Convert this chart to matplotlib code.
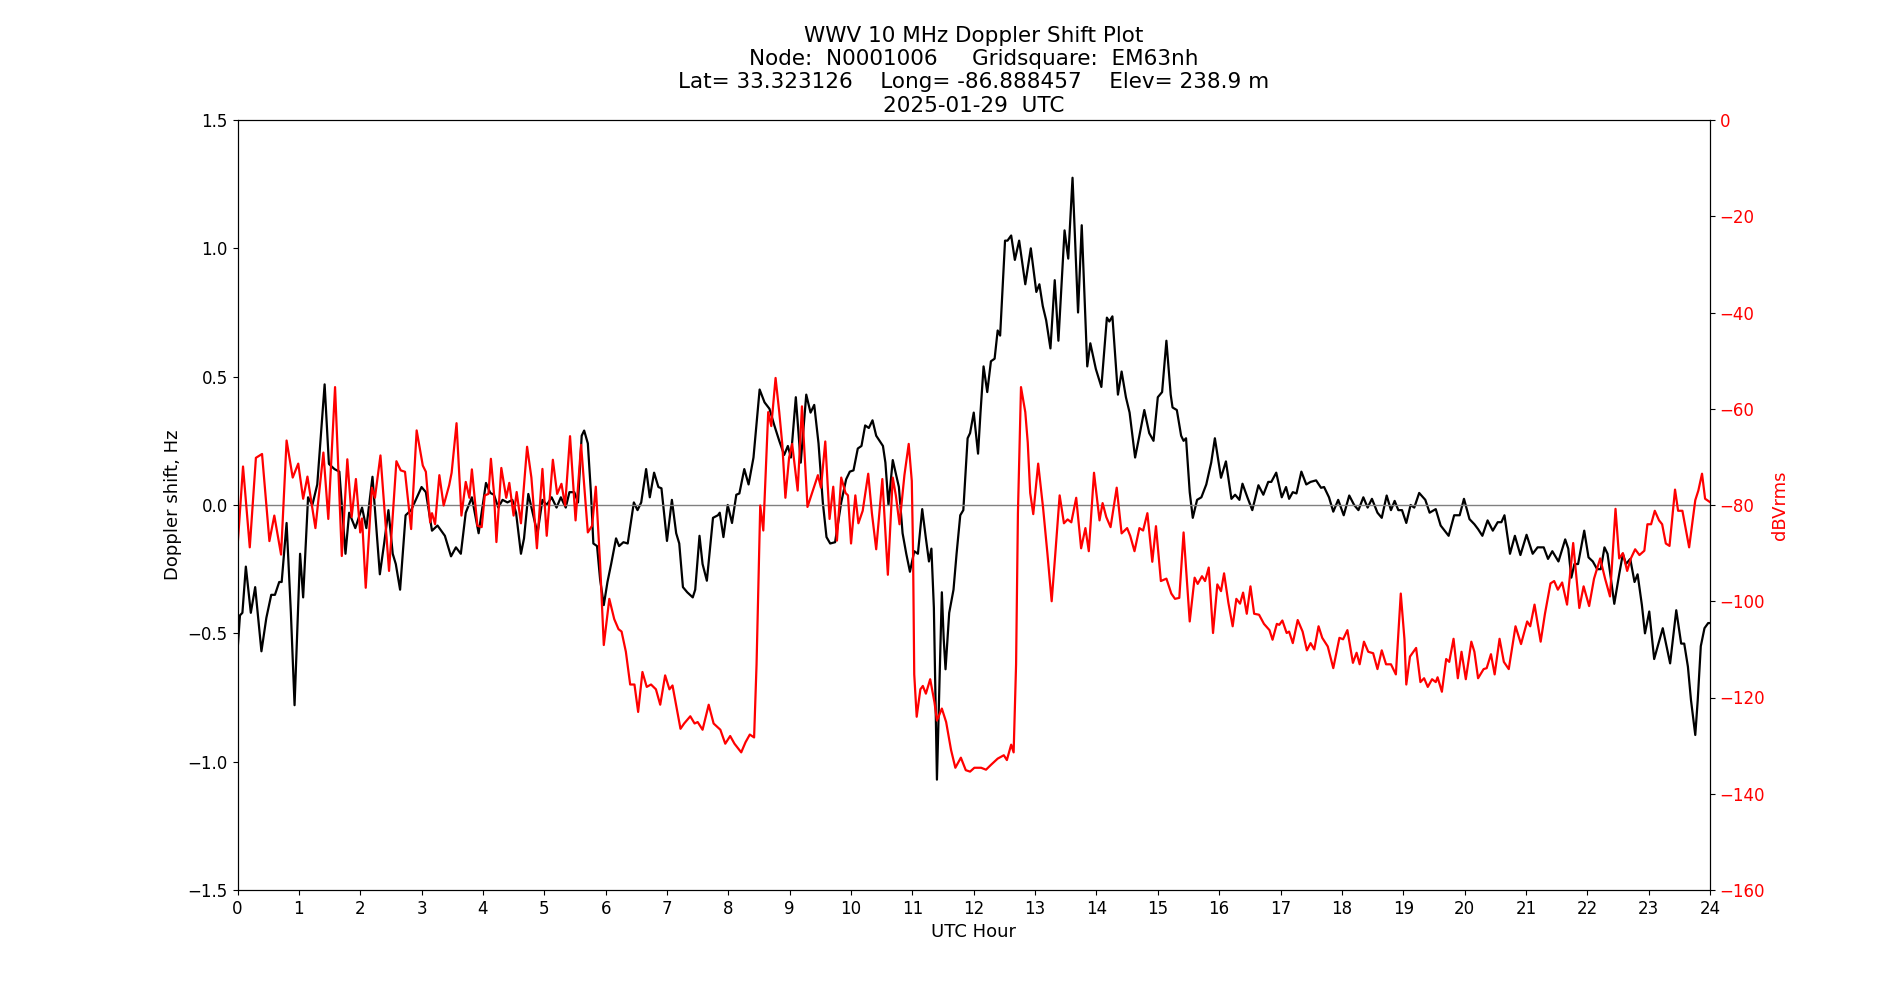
import matplotlib
matplotlib.use("Agg")
import matplotlib.pyplot as plt

# Doppler-Verschiebung (schwarz): Stunde UTC / Hz
doppler_hour = [
    0.00, 0.04, 0.08, 0.136, 0.217, 0.288, 0.39, 0.47, 0.55, 0.61, 0.68, 0.72, 0.80, 0.87, 0.93,
    1.02, 1.07, 1.15, 1.22, 1.30, 1.42, 1.49, 1.58, 1.66, 1.76, 1.82, 1.92, 2.03, 2.10, 2.20,
    2.32, 2.39, 2.46, 2.53, 2.58, 2.65, 2.74, 2.83, 3.00, 3.07, 3.17, 3.26, 3.38, 3.48, 3.56,
    3.64, 3.72, 3.82, 3.93, 4.05, 4.12, 4.18, 4.25, 4.32, 4.40, 4.48, 4.54, 4.62, 4.67, 4.74,
    4.83, 4.89, 4.97, 5.04, 5.12, 5.20, 5.27, 5.35, 5.41, 5.49, 5.55, 5.61, 5.65, 5.71, 5.76,
    5.80, 5.86, 5.91, 5.97, 6.03, 6.09, 6.17, 6.22, 6.29, 6.36, 6.46, 6.52, 6.58, 6.66, 6.72,
    6.79, 6.86, 6.91, 7.00, 7.08, 7.15, 7.20, 7.26, 7.33, 7.42, 7.46, 7.53, 7.58, 7.65, 7.75,
    7.83, 7.86, 7.92, 7.99, 8.06, 8.13, 8.18, 8.26, 8.33, 8.41, 8.51, 8.59, 8.67, 8.75, 8.83,
    8.91, 8.97, 9.02, 9.10, 9.18, 9.27, 9.34, 9.40, 9.47, 9.54, 9.60, 9.66, 9.74, 9.84, 9.92,
    9.98, 10.04, 10.11, 10.17, 10.23, 10.29, 10.35, 10.41, 10.52, 10.56, 10.61, 10.68, 10.78, 10.84, 10.90,
    10.96, 11.03, 11.09, 11.16, 11.22, 11.27, 11.31, 11.35, 11.40, 11.44, 11.48, 11.51, 11.54, 11.60, 11.67,
    11.72, 11.78, 11.83, 11.90, 11.94, 12.00, 12.07, 12.11, 12.16, 12.22, 12.28, 12.34, 12.39, 12.43, 12.51,
    12.55, 12.61, 12.67, 12.74, 12.84, 12.93, 13.02, 13.07, 13.125, 13.18, 13.25, 13.32, 13.38, 13.48, 13.54,
    13.61, 13.70, 13.76, 13.85, 13.90, 13.99, 14.08, 14.17, 14.21, 14.26, 14.35, 14.41, 14.48, 14.54, 14.63,
    14.70, 14.78, 14.86, 14.93, 15.00, 15.07, 15.14, 15.21, 15.24, 15.31, 15.38, 15.42, 15.46, 15.52, 15.57,
    15.64, 15.71, 15.79, 15.87, 15.93, 16.03, 16.11, 16.20, 16.26, 16.33, 16.38, 16.46, 16.54, 16.64, 16.72,
    16.80, 16.85, 16.93, 17.02, 17.09, 17.14, 17.20, 17.26, 17.34, 17.42, 17.49, 17.58, 17.66, 17.71, 17.79,
    17.86, 17.94, 18.03, 18.12, 18.20, 18.27, 18.35, 18.42, 18.49, 18.58, 18.65, 18.73, 18.80, 18.86, 18.92,
    18.98, 19.05, 19.12, 19.18, 19.26, 19.36, 19.43, 19.53, 19.61, 19.74, 19.83, 19.92, 19.99, 20.08, 20.16,
    20.22, 20.29, 20.375, 20.46, 20.54, 20.60, 20.65, 20.74, 20.82, 20.91, 21.01, 21.11, 21.19, 21.29, 21.36,
    21.43, 21.53, 21.64, 21.69, 21.74, 21.79, 21.85, 21.95, 22.02, 22.09, 22.16, 22.22, 22.28, 22.33, 22.375,
    22.44, 22.52, 22.58, 22.63, 22.70, 22.77, 22.82, 22.89, 22.94, 23.01, 23.09, 23.16, 23.23, 23.35, 23.45,
    23.53, 23.58, 23.64, 23.69, 23.76, 23.80, 23.85, 23.91, 23.97, 24.00,
]
doppler_hz = [
    -0.57, -0.43, -0.42, -0.24, -0.42, -0.32, -0.57, -0.44, -0.35, -0.35, -0.30, -0.30, -0.07, -0.42, -0.78,
    -0.19, -0.36, 0.03, 0.00, 0.08, 0.47, 0.16, 0.14, 0.13, -0.19, -0.03, -0.09, -0.01, -0.09, 0.11,
    -0.27, -0.15, -0.02, -0.19, -0.23, -0.33, -0.04, -0.02, 0.07, 0.05, -0.10, -0.08, -0.12, -0.20, -0.165,
    -0.19, -0.03, 0.03, -0.11, 0.086, 0.047, 0.04, -0.01, 0.02, 0.01, 0.02, -0.03, -0.19, -0.13, 0.043,
    -0.05, -0.11, 0.02, 0.00, 0.03, -0.01, 0.03, -0.01, 0.05, 0.05, 0.01, 0.27, 0.29, 0.24, 0.05,
    -0.15, -0.16, -0.29, -0.39, -0.30, -0.23, -0.13, -0.16, -0.145, -0.15, 0.01, -0.02, 0.01, 0.14, 0.03,
    0.126, 0.07, 0.065, -0.14, 0.02, -0.11, -0.15, -0.32, -0.34, -0.36, -0.33, -0.12, -0.23, -0.295, -0.05,
    -0.04, -0.03, -0.125, 0.00, -0.07, 0.04, 0.045, 0.14, 0.08, 0.185, 0.45, 0.40, 0.375, 0.31, 0.25,
    0.195, 0.23, 0.185, 0.42, 0.165, 0.43, 0.36, 0.39, 0.24, 0.01, -0.125, -0.15, -0.145, 0.01, 0.10,
    0.13, 0.135, 0.22, 0.23, 0.31, 0.30, 0.33, 0.27, 0.23, 0.165, 0.00, 0.175, 0.07, -0.11, -0.19,
    -0.26, -0.18, -0.19, -0.016, -0.13, -0.22, -0.17, -0.40, -1.07, -0.70, -0.34, -0.52, -0.64, -0.42, -0.33,
    -0.19, -0.04, -0.02, 0.26, 0.28, 0.36, 0.20, 0.36, 0.54, 0.44, 0.56, 0.57, 0.68, 0.66, 1.03,
    1.03, 1.05, 0.955, 1.03, 0.86, 1.00, 0.83, 0.86, 0.775, 0.72, 0.61, 0.876, 0.64, 1.07, 0.96,
    1.275, 0.75, 1.09, 0.54, 0.63, 0.53, 0.46, 0.73, 0.715, 0.735, 0.43, 0.52, 0.42, 0.36, 0.185,
    0.27, 0.37, 0.28, 0.25, 0.42, 0.44, 0.64, 0.43, 0.38, 0.37, 0.27, 0.25, 0.26, 0.05, -0.05,
    0.02, 0.03, 0.08, 0.165, 0.26, 0.106, 0.17, 0.024, 0.04, 0.02, 0.083, 0.03, -0.02, 0.077, 0.04,
    0.09, 0.09, 0.126, 0.03, 0.07, 0.024, 0.05, 0.045, 0.13, 0.08, 0.09, 0.096, 0.067, 0.07, 0.03,
    -0.026, 0.02, -0.04, 0.037, 0.00, -0.02, 0.03, -0.01, 0.024, -0.03, -0.05, 0.037, -0.02, 0.016, -0.02,
    -0.02, -0.07, 0.00, -0.01, 0.047, 0.02, -0.03, -0.016, -0.08, -0.12, -0.04, -0.04, 0.024, -0.055, -0.075,
    -0.094, -0.12, -0.06, -0.10, -0.067, -0.067, -0.04, -0.19, -0.12, -0.195, -0.116, -0.19, -0.165, -0.165, -0.21,
    -0.18, -0.22, -0.134, -0.17, -0.283, -0.23, -0.23, -0.10, -0.204, -0.22, -0.25, -0.25, -0.165, -0.19, -0.27,
    -0.385, -0.27, -0.19, -0.23, -0.21, -0.30, -0.27, -0.39, -0.50, -0.415, -0.60, -0.54, -0.48, -0.617, -0.41,
    -0.54, -0.54, -0.63, -0.76, -0.896, -0.76, -0.55, -0.48, -0.46, -0.46,
]

# Signalpegel (rot): Stunde UTC / dBVrms
level_hour = [
    0.00, 0.09, 0.20, 0.30, 0.40, 0.52, 0.60, 0.71, 0.80, 0.90, 0.99, 1.07, 1.14, 1.27, 1.40,
    1.48, 1.59, 1.70, 1.79, 1.86, 1.93, 2.00, 2.03, 2.09, 2.19, 2.24, 2.33, 2.47, 2.59, 2.66,
    2.73, 2.83, 2.92, 3.02, 3.07, 3.14, 3.17, 3.22, 3.29, 3.36, 3.45, 3.49, 3.57, 3.65, 3.72,
    3.78, 3.82, 3.91, 3.98, 4.03, 4.09, 4.13, 4.18, 4.22, 4.30, 4.38, 4.43, 4.50, 4.55, 4.62,
    4.72, 4.79, 4.88, 4.97, 5.04, 5.14, 5.21, 5.28, 5.34, 5.42, 5.51, 5.60, 5.71, 5.78, 5.84,
    5.91, 5.97, 6.06, 6.14, 6.21, 6.26, 6.33, 6.40, 6.47, 6.53, 6.60, 6.67, 6.74, 6.82, 6.89,
    6.97, 7.04, 7.09, 7.22, 7.28, 7.38, 7.45, 7.50, 7.58, 7.68, 7.76, 7.87, 7.95, 8.03, 8.10,
    8.21, 8.28, 8.35, 8.42, 8.46, 8.52, 8.57, 8.65, 8.70, 8.77, 8.83, 8.88, 8.93, 8.99, 9.04,
    9.13, 9.20, 9.29, 9.36, 9.46, 9.51, 9.58, 9.65, 9.71, 9.77, 9.84, 9.91, 9.95, 10.00, 10.07,
    10.12, 10.19, 10.28, 10.34, 10.41, 10.51, 10.60, 10.68, 10.73, 10.79, 10.87, 10.94, 10.99, 11.01, 11.03,
    11.07, 11.13, 11.17, 11.22, 11.29, 11.36, 11.40, 11.48, 11.55, 11.63, 11.70, 11.79, 11.87, 11.94, 12.01,
    12.12, 12.20, 12.28, 12.39, 12.49, 12.54, 12.61, 12.65, 12.69, 12.72, 12.77, 12.84, 12.88, 12.92, 12.97,
    13.05, 13.13, 13.20, 13.27, 13.33, 13.40, 13.47, 13.53, 13.59, 13.67, 13.75, 13.82, 13.875, 13.96, 14.05,
    14.10, 14.16, 14.23, 14.33, 14.41, 14.50, 14.55, 14.62, 14.70, 14.76, 14.83, 14.91, 14.97, 15.05, 15.14,
    15.22, 15.28, 15.35, 15.42, 15.52, 15.60, 15.65, 15.72, 15.77, 15.83, 15.90, 15.97, 16.03, 16.08, 16.15,
    16.22, 16.28, 16.34, 16.39, 16.45, 16.51, 16.57, 16.65, 16.73, 16.82, 16.87, 16.94, 16.98, 17.03, 17.10,
    17.14, 17.20, 17.28, 17.36, 17.43, 17.49, 17.55, 17.62, 17.68, 17.77, 17.86, 17.96, 18.02, 18.09, 18.18,
    18.24, 18.29, 18.36, 18.43, 18.51, 18.58, 18.65, 18.72, 18.80, 18.88, 18.96, 19.02, 19.05, 19.11, 19.21,
    19.28, 19.34, 19.40, 19.47, 19.53, 19.56, 19.63, 19.70, 19.75, 19.82, 19.89, 19.95, 20.02, 20.11, 20.16,
    20.22, 20.31, 20.36, 20.43, 20.49, 20.57, 20.64, 20.72, 20.83, 20.92, 21.02, 21.07, 21.14, 21.24, 21.31,
    21.40, 21.46, 21.52, 21.59, 21.67, 21.77, 21.87, 21.94, 22.03, 22.11, 22.21, 22.29, 22.37, 22.46, 22.52,
    22.58, 22.65, 22.71, 22.78, 22.85, 22.93, 22.98, 23.04, 23.10, 23.17, 23.22, 23.28, 23.34, 23.43, 23.48,
    23.55, 23.61, 23.66, 23.76, 23.81, 23.87, 23.92, 24.00,
]
level_db = [
    -88.8, -72.0, -88.8, -70.2, -69.4, -87.5, -82.2, -90.3, -66.6, -74.3, -71.4, -78.7, -74.1, -84.8, -69.1,
    -82.9, -55.5, -90.6, -70.5, -82.5, -74.6, -85.7, -82.8, -97.2, -76.4, -78.5, -69.7, -93.7, -70.9, -72.8,
    -73.1, -85.0, -64.5, -71.8, -73.1, -83.6, -81.7, -84.0, -73.8, -80.1, -75.9, -73.3, -63.0, -82.2, -75.2,
    -78.5, -72.6, -84.3, -84.6, -78.0, -77.7, -70.4, -77.5, -87.7, -72.3, -78.5, -75.4, -82.2, -77.3, -83.8,
    -67.9, -74.3, -89.0, -72.5, -86.4, -70.6, -77.7, -75.6, -80.1, -65.7, -83.2, -67.5, -85.7, -84.3, -76.2,
    -92.2, -109.1, -99.5, -103.7, -105.8, -106.3, -110.5, -117.3, -117.3, -123.0, -114.7, -117.8, -117.3, -118.3, -121.5,
    -115.4, -118.3, -117.5, -126.5, -125.4, -123.9, -125.4, -125.1, -126.7, -121.5, -125.4, -126.7, -129.6, -128.0, -129.6,
    -131.4, -129.3, -127.7, -128.3, -113.1, -80.1, -85.3, -60.7, -63.6, -53.6, -60.7, -67.5, -78.5, -70.2, -67.3,
    -77.0, -59.5, -80.4, -77.7, -73.8, -76.4, -66.8, -82.9, -76.2, -87.4, -74.3, -77.5, -78.0, -88.0, -78.0,
    -83.8, -81.2, -73.5, -81.7, -89.2, -74.6, -94.5, -74.3, -78.0, -84.0, -73.8, -67.3, -75.0, -89.0, -115.2,
    -124.0, -118.3, -117.6, -119.2, -116.2, -121.0, -124.8, -122.3, -125.1, -130.9, -134.6, -132.5, -135.1, -135.4, -134.6,
    -134.6, -135.0, -134.0, -132.7, -132.0, -133.0, -129.8, -131.4, -113.1, -81.7, -55.5, -60.7, -67.0, -77.5, -81.9,
    -71.4, -80.6, -90.0, -100.0, -90.0, -78.0, -83.8, -83.0, -83.6, -78.5, -89.0, -84.8, -89.6, -73.3, -83.2,
    -79.6, -82.5, -84.6, -76.4, -85.9, -84.8, -86.4, -89.6, -84.8, -85.3, -81.7, -91.8, -84.4, -95.8, -95.3,
    -98.4, -99.5, -99.3, -85.7, -104.2, -95.1, -96.4, -94.8, -95.8, -93.0, -106.6, -96.5, -97.9, -94.2, -100.3,
    -105.2, -99.5, -100.5, -98.2, -102.6, -96.9, -102.6, -102.8, -104.7, -106.0, -108.0, -104.7, -104.9, -104.0, -106.6,
    -106.3, -108.7, -103.9, -106.3, -110.2, -108.7, -110.0, -105.2, -107.6, -109.4, -113.9, -107.6, -107.9, -106.0, -112.8,
    -110.7, -113.1, -108.4, -110.5, -110.8, -114.1, -110.2, -113.1, -113.1, -115.2, -98.4, -107.9, -117.3, -111.5, -109.7,
    -116.8, -116.0, -117.8, -116.2, -116.8, -115.8, -118.8, -112.0, -112.6, -107.8, -116.0, -110.5, -116.2, -108.4, -110.5,
    -116.0, -114.1, -113.9, -111.0, -115.2, -107.8, -112.6, -114.1, -105.2, -108.9, -104.2, -105.2, -100.7, -108.4, -102.6,
    -96.3, -95.8, -97.6, -96.1, -100.7, -87.9, -101.4, -96.9, -101.0, -95.3, -91.1, -95.3, -99.0, -80.8, -91.1,
    -90.0, -93.7, -91.1, -89.2, -90.4, -89.5, -84.0, -84.0, -81.2, -83.2, -84.0, -88.0, -88.5, -76.8, -81.2,
    -81.2, -85.3, -88.8, -79.0, -77.0, -73.5, -78.7, -79.4,
]

hour_ticks = list(range(0, 25))

title = ("WWV 10 MHz Doppler Shift Plot\n"
         "Node:  N0001006     Gridsquare:  EM63nh\n"
         "Lat= 33.323126    Long= -86.888457    Elev= 238.9 m\n"
         "2025-01-29  UTC")

fig, ax = plt.subplots(figsize=(19, 10), dpi=100)

ax.plot(doppler_hour, doppler_hz, color="black", linewidth=1.6)
ax.axhline(0, color="grey", linewidth=1)
ax.set_xlim(0, 24)
ax.set_ylim(-1.5, 1.5)
ax.set_xticks(hour_ticks)
ax.set_xlabel("UTC Hour", fontsize=13)
ax.set_ylabel("Doppler shift, Hz", fontsize=13)
ax.tick_params(labelsize=12)
ax.set_title(title, fontsize=15.5)

ax2 = ax.twinx()
ax2.plot(level_hour, level_db, color="red", linewidth=1.6)
ax2.set_ylim(-160, 0)
ax2.set_ylabel("dBVrms", color="red", fontsize=13)
ax2.tick_params(axis="y", labelcolor="red", labelsize=12)

plt.savefig("out.png", dpi=100)
